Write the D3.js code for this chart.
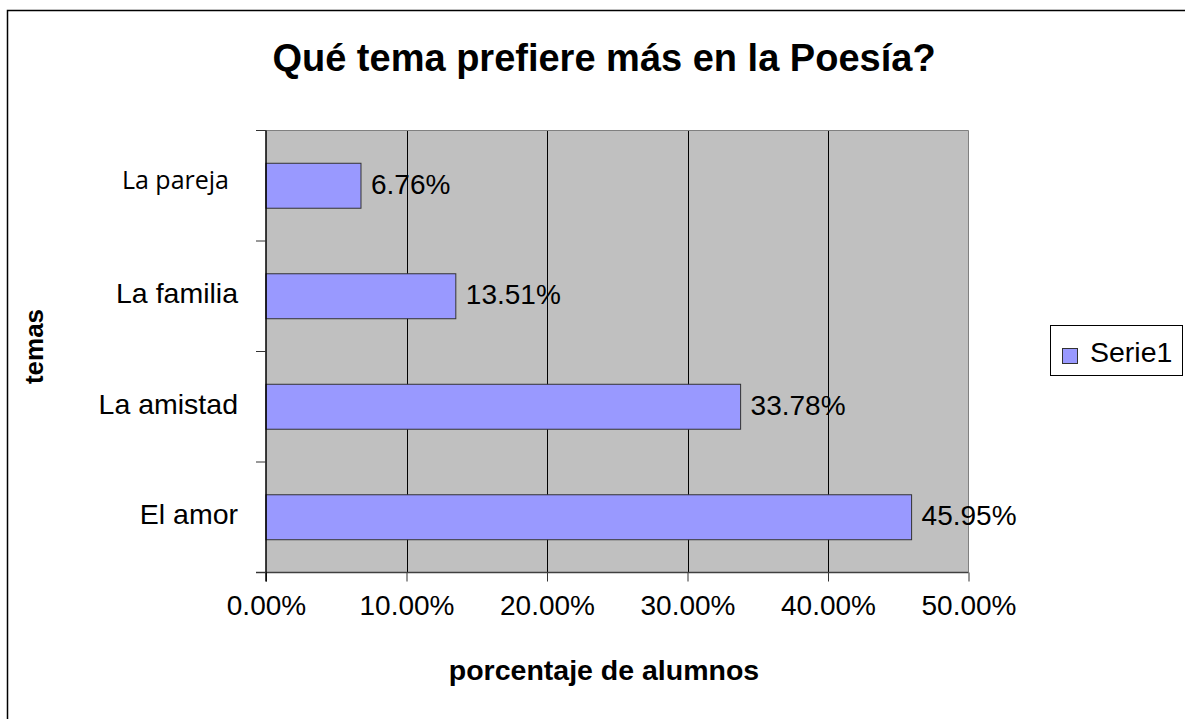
<!DOCTYPE html>
<html>
<head>
<meta charset="utf-8">
<script src="https://cdn.jsdelivr.net/npm/d3@7"></script>
<style>
  html, body { margin: 0; padding: 0; background: #fff; }
  svg { display: block; }
</style>
</head>
<body>
<svg id="chart" width="1185" height="719"></svg>
<script>
const categories = ["La pareja", "La familia", "La amistad", "El amor"];
const values = [6.76, 13.51, 33.78, 45.95];
const xTicks = [0, 10, 20, 30, 40, 50];
const seriesName = "Serie1";
const title = "Qué tema prefiere más en la Poesía?";
const xTitle = "porcentaje de alumnos";
const yTitle = "temas";

const svg = d3.select("#chart");
const plot = { left: 266, top: 130.5, right: 968.5, bottom: 572.5 };
const arial = "'Liberation Sans', Arial, sans-serif";

// outer border
svg.append("rect").attr("x", 7.5).attr("y", 10.5).attr("width", 1200).attr("height", 720)
  .attr("fill", "#fff").attr("stroke", "#000").attr("stroke-width", 1.5);

const x = d3.scaleLinear().domain([0, 50]).range([plot.left, plot.right]);
const yBand = d3.scaleBand().domain(categories).range([plot.top, plot.bottom]).padding(0);
const yBar = d3.scaleBand().domain(categories).range([plot.top, plot.bottom])
  .paddingInner(0.593).paddingOuter(0.2965);

// plot background
svg.append("rect").attr("x", plot.left).attr("y", plot.top)
  .attr("width", plot.right - plot.left).attr("height", plot.bottom - plot.top)
  .attr("fill", "#c0c0c0");

// gridlines
svg.append("g").selectAll("line").data(xTicks.filter(t => t > 0 && t < 50)).join("line")
  .attr("x1", d => Math.round(x(d)) + 0.5).attr("x2", d => Math.round(x(d)) + 0.5)
  .attr("y1", plot.top).attr("y2", plot.bottom)
  .attr("stroke", "#000").attr("stroke-width", 1);

// plot border top/right
svg.append("line").attr("x1", plot.left).attr("x2", plot.right).attr("y1", plot.top).attr("y2", plot.top)
  .attr("stroke", "#808080").attr("stroke-width", 1);
svg.append("line").attr("x1", plot.right).attr("x2", plot.right).attr("y1", plot.top).attr("y2", plot.bottom)
  .attr("stroke", "#808080").attr("stroke-width", 1);

// bars
svg.append("g").selectAll("rect").data(categories).join("rect")
  .attr("x", plot.left)
  .attr("y", d => yBar(d))
  .attr("width", (d, i) => x(values[i]) - x(0))
  .attr("height", yBar.bandwidth())
  .attr("fill", "#9999ff").attr("stroke", "#333").attr("stroke-width", 1);

// value labels
svg.append("g").selectAll("text").data(categories).join("text")
  .attr("x", (d, i) => x(values[i]) + 10)
  .attr("y", d => yBand(d) + yBand.bandwidth() / 2 + 8)
  .attr("font-family", arial).attr("font-size", 28).attr("fill", "#000")
  .text((d, i) => values[i].toFixed(2) + "%");

// x axis
const xAxis = d3.axisBottom(x).tickValues(xTicks).tickFormat(d => d.toFixed(2) + "%")
  .tickSizeInner(9).tickSizeOuter(0).tickPadding(14);
const gx = svg.append("g").attr("transform", `translate(0,${plot.bottom})`).call(xAxis);
gx.select(".domain").remove();
gx.selectAll(".tick line").attr("stroke", "#333");
gx.selectAll(".tick text").attr("font-family", arial).attr("font-size", 28).attr("fill", "#000")
  .attr("dy", "0.71em");
svg.append("line").attr("x1", plot.left - 10).attr("x2", plot.right).attr("y1", plot.bottom).attr("y2", plot.bottom)
  .attr("stroke", "#404040").attr("stroke-width", 1.5);

// y axis
svg.append("line").attr("x1", plot.left).attr("x2", plot.left).attr("y1", plot.top).attr("y2", plot.bottom + 9)
  .attr("stroke", "#000").attr("stroke-width", 1.5);
const yTickPos = categories.map(c => yBand(c)).concat([plot.bottom]);
svg.append("g").selectAll("line").data(yTickPos).join("line")
  .attr("x1", plot.left - 10).attr("x2", plot.left)
  .attr("y1", d => d).attr("y2", d => d)
  .attr("stroke", "#333").attr("stroke-width", 1);

// category labels
svg.append("g").selectAll("text").data(categories).join("text")
  .attr("x", (d, i) => i === 0 ? 229 : 238)
  .attr("y", (d, i) => yBand(d) + yBand.bandwidth() / 2 + (i === 0 ? 3 : 7))
  .attr("text-anchor", "end")
  .attr("font-family", (d, i) => i === 0 ? "'Open Sans', sans-serif" : arial)
  .attr("font-size", (d, i) => i === 0 ? 25 : 28.5)
  .attr("fill", "#000")
  .text(d => d);

// title
svg.append("text").attr("x", 604).attr("y", 71).attr("text-anchor", "middle")
  .attr("font-family", arial).attr("font-weight", "bold").attr("font-size", 38).attr("fill", "#000")
  .text(title);

// axis titles
svg.append("text").attr("x", 604).attr("y", 680).attr("text-anchor", "middle")
  .attr("font-family", arial).attr("font-weight", "bold").attr("font-size", 28.5).attr("fill", "#000")
  .text(xTitle);
svg.append("text").attr("transform", "translate(43,346.5) rotate(-90)").attr("text-anchor", "middle")
  .attr("font-family", arial).attr("font-weight", "bold").attr("font-size", 26).attr("fill", "#000")
  .text(yTitle);

// legend
const lg = svg.append("g");
lg.append("rect").attr("x", 1050.5).attr("y", 325.5).attr("width", 132).attr("height", 50)
  .attr("fill", "#fff").attr("stroke", "#000").attr("stroke-width", 1);
lg.append("rect").attr("x", 1062.5).attr("y", 348.5).attr("width", 15).attr("height", 15)
  .attr("fill", "#9999ff").attr("stroke", "#333").attr("stroke-width", 1);
lg.append("text").attr("x", 1090).attr("y", 362)
  .attr("font-family", arial).attr("font-size", 28.5).attr("fill", "#000").text(seriesName);
</script>
</body>
</html>
